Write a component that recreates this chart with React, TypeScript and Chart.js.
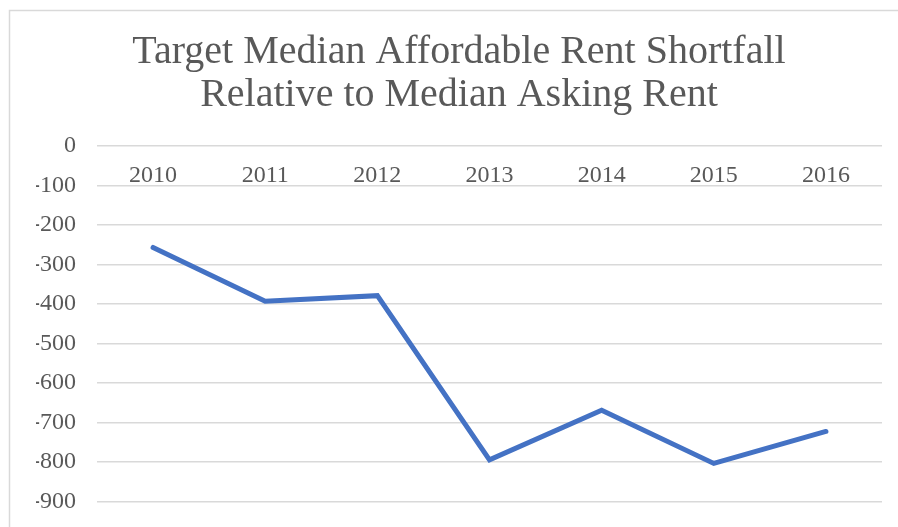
import React, { useEffect, useRef } from "react";
import { Chart, registerables } from "chart.js";

Chart.register(...registerables);

const years = ["2010", "2011", "2012", "2013", "2014", "2015", "2016"];
const shortfall = [-257, -393, -379, -795, -669, -804, -723];
const titleLines = ["Target Median Affordable Rent Shortfall", "Relative to Median Asking Rent"];
const yMin = -965;
const yMax = 0;
const yStep = 100;

const FONT = "'Liberation Serif', 'Times New Roman', serif";
const TEXT = "#595959";
const GRID = "#d9d9d9";

const framePlugin = {
  id: "frame",
  beforeDraw(chart: any) {
    const ctx = chart.ctx;
    ctx.save();
    ctx.fillStyle = "#ffffff";
    ctx.fillRect(0, 0, chart.width, chart.height);
    ctx.strokeStyle = GRID;
    ctx.lineWidth = 1.5;
    ctx.strokeRect(9.5, 10.5, chart.width + 50, chart.height + 50);
    ctx.restore();
  },
};

export default function App() {
  const ref = useRef<HTMLCanvasElement>(null);
  useEffect(() => {
    if (!ref.current) return;
    const chart = new Chart(ref.current, {
      type: "line",
      data: {
        labels: years,
        datasets: [
          {
            data: shortfall,
            borderColor: "#4472C4",
            backgroundColor: "#4472C4",
            borderWidth: 5,
            pointRadius: 0,
            tension: 0,
            borderCapStyle: "round",
            borderJoinStyle: "miter",
          },
        ],
      },
      options: {
        animation: false,
        responsive: false,
        layout: { padding: { left: 36, right: 16, top: 0, bottom: 0 } },
        plugins: {
          legend: { display: false },
          tooltip: { enabled: false },
          title: {
            display: true,
            text: titleLines,
            color: TEXT,
            font: { family: FONT, size: 40, weight: "normal", lineHeight: 1.0675 },
            padding: { top: 31, bottom: 29.6 },
          },
        },
        scales: {
          x: {
            position: { y: 0 } as any,
            offset: true,
            grid: { display: false, drawTicks: false },
            border: { display: false },
            ticks: {
              color: TEXT,
              font: { family: FONT, size: 24 },
              padding: 15,
              maxRotation: 0,
            },
            afterFit(scale: any) {
              scale.height = 0;
            },
          },
          y: {
            min: yMin,
            max: yMax,
            grid: { color: GRID, lineWidth: 1.5, drawTicks: false },
            border: { display: false },
            ticks: {
              stepSize: yStep,
              includeBounds: false,
              color: TEXT,
              font: { family: FONT, size: 24 },
              padding: 21,
            },
            afterFit(scale: any) {
              scale.width = 61;
              scale.paddingBottom = 0;
            },
          },
        },
      },
      plugins: [framePlugin],
    });
    return () => chart.destroy();
  }, []);
  return (
    <div style={{ position: "absolute", left: 0, top: 0, width: 898, height: 527, overflow: "hidden" }}>
      <canvas ref={ref} width={898} height={527} style={{ display: "block" }} />
    </div>
  );
}
